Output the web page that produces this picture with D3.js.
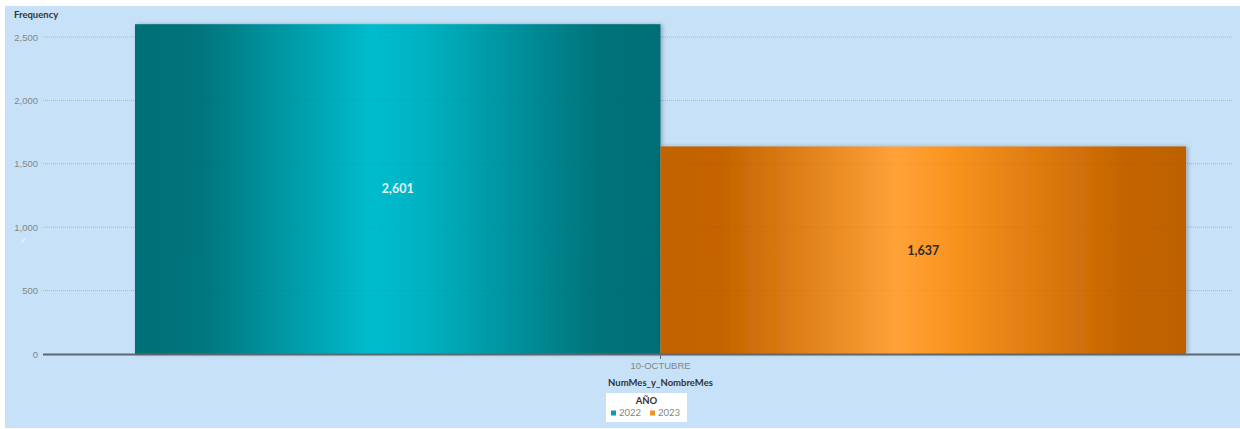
<!DOCTYPE html>
<html>
<head>
<meta charset="utf-8">
<script src="https://cdn.jsdelivr.net/npm/d3@7"></script>
<style>
  body { margin: 0; background: #fff; }
  svg { display: block; font-family: Lato, "Open Sans", sans-serif; }
</style>
</head>
<body>
<div id="chart"></div>
<script>
// data
const categories = ['10-OCTUBRE'];
const years = ['2022', '2023'];
const values2022 = [2601];
const values2023 = [1637];
const yTicks = [0, 500, 1000, 1500, 2000, 2500];

const width = 1240;
const height = 429;
const margin = { top: 24, right: 8, bottom: 75, left: 43 };
const baseY = 354;

const svg = d3.select('#chart')
  .append('svg')
  .attr('width', width)
  .attr('height', height)
  .attr('viewBox', `0 0 ${width} ${height}`);

// gradients for the shiny bars
const defs = svg.append('defs');
const grads = {
  '2022': [[0, '#006f77'], [0.12, '#00747b'], [0.45, '#00bccd'], [0.55, '#00b2c2'], [0.88, '#00737a'], [1, '#006e76']],
  '2023': [[0, '#c26300'], [0.12, '#c46400'], [0.45, '#ffa238'], [0.55, '#f99420'], [0.88, '#c46400'], [1, '#bd6100']]
};
Object.entries(grads).forEach(([k, stops]) => {
  const g = defs.append('linearGradient').attr('id', 'g' + k)
    .attr('x1', '0%').attr('x2', '100%').attr('y1', '0%').attr('y2', '0%');
  stops.forEach(s => g.append('stop').attr('offset', s[0]).attr('stop-color', s[1]));
});
const shadow = defs.append('filter').attr('id', 'shadow')
  .attr('x', '-5%').attr('y', '-5%').attr('width', '110%').attr('height', '110%');
shadow.append('feDropShadow').attr('dx', 2).attr('dy', 0).attr('stdDeviation', 2)
  .attr('flood-color', '#000').attr('flood-opacity', 0.25);

// background panel
svg.append('rect')
  .attr('x', 5).attr('y', 6)
  .attr('width', width - 5).attr('height', height - 7)
  .attr('fill', '#c7e2f8');

const x0 = d3.scaleBand()
  .domain(categories)
  .range([margin.left, 1278])
  .paddingInner(0)
  .paddingOuter(0.0875);

const x1 = d3.scaleBand()
  .domain(years)
  .range([0, x0.bandwidth()]);

const y = d3.scaleLinear()
  .domain([0, 2500])
  .range([baseY, 37]);

const color = d3.scaleOrdinal().domain(years).range(['#0e9aa7', '#f39325']);

// y axis with gridlines
svg.append('g')
  .attr('transform', `translate(${margin.left},0)`)
  .call(d3.axisLeft(y).tickValues(yTicks).tickFormat(d3.format(',')).tickSize(0).tickPadding(5))
  .call(g => g.select('.domain').remove())
  .call(g => g.selectAll('text').attr('fill', '#858585').style('font-size', '9.5px'));

svg.append('g').selectAll('line')
  .data(yTicks.filter(d => d > 0))
  .join('line')
  .attr('x1', margin.left).attr('x2', width - margin.right)
  .attr('y1', d => y(d)).attr('y2', d => y(d))
  .attr('stroke', '#a9c2d8')
  .attr('stroke-dasharray', '1,1');

// bars
const rows = categories.map((c, i) => ({ cat: c, vals: [values2022[i], values2023[i]] }));
const groups = svg.append('g').selectAll('g')
  .data(rows)
  .join('g')
  .attr('transform', d => `translate(${x0(d.cat)},0)`);

groups.selectAll('rect')
  .data(d => d.vals.map((v, i) => ({ key: years[i], v })))
  .join('rect')
  .attr('x', d => x1(d.key))
  .attr('y', d => y(d.v))
  .attr('width', x1.bandwidth())
  .attr('height', d => y(0) - y(d.v))
  .attr('fill', d => `url(#g${d.key})`)
  .attr('filter', 'url(#shadow)');

// gridlines faintly over bars
svg.append('g').selectAll('line')
  .data(yTicks.filter(d => d > 0))
  .join('line')
  .attr('x1', margin.left).attr('x2', width - margin.right)
  .attr('y1', d => y(d)).attr('y2', d => y(d))
  .attr('stroke', '#000')
  .attr('stroke-opacity', 0.05)
  .attr('stroke-dasharray', '1,1');

// value labels
groups.selectAll('text.val')
  .data(d => d.vals.map((v, i) => ({ key: years[i], v })))
  .join('text')
  .attr('class', 'val')
  .attr('x', d => x1(d.key) + x1.bandwidth() / 2)
  .attr('y', d => (y(d.v) + y(0)) / 2)
  .attr('dy', '0.35em')
  .attr('text-anchor', 'middle')
  .attr('font-size', 12.5)
  .attr('font-weight', 700)
  .attr('fill', (d, i) => i === 0 ? '#e4f4f6' : '#2b2b2b')
  .text(d => d3.format(',')(d.v));

// x axis
svg.append('line')
  .attr('x1', margin.left).attr('x2', width)
  .attr('y1', baseY + 0.5).attr('y2', baseY + 0.5)
  .attr('stroke', '#5f6770').attr('stroke-width', 2);

svg.append('g')
  .attr('transform', `translate(0,${baseY + 1})`)
  .call(d3.axisBottom(x0).tickSize(4).tickPadding(3))
  .call(g => g.select('.domain').remove())
  .call(g => g.selectAll('line').attr('stroke', '#5f6770'))
  .call(g => g.selectAll('text').attr('fill', '#858585').style('font-size', '9.5px'));

// titles
svg.append('text')
  .attr('x', 14).attr('y', 18)
  .attr('font-size', 9.5).attr('font-weight', 700).attr('fill', '#333')
  .text('Frequency');

svg.append('text')
  .attr('x', x0(categories[0]) + x0.bandwidth() / 2)
  .attr('y', 386)
  .attr('text-anchor', 'middle')
  .attr('font-size', 9.5).attr('font-weight', 700).attr('fill', '#333')
  .text('NumMes_y_NombreMes');

// small check mark
svg.append('text')
  .attr('x', 20).attr('y', 243)
  .attr('font-size', 8).attr('fill', '#fff')
  .text('✓');

// legend
const lg = svg.append('g').attr('transform', 'translate(606,393)');
lg.append('rect').attr('width', 81).attr('height', 29).attr('fill', '#fff');
lg.append('text')
  .attr('x', 40.5).attr('y', 11)
  .attr('text-anchor', 'middle')
  .attr('font-size', 9.5).attr('font-weight', 700).attr('fill', '#333')
  .text('AÑO');
const items = lg.selectAll('g.item')
  .data(years)
  .join('g')
  .attr('class', 'item')
  .attr('transform', (d, i) => `translate(${5 + i * 39},17)`);
items.append('rect')
  .attr('width', 5).attr('height', 5).attr('y', 0.5)
  .attr('fill', d => color(d));
items.append('text')
  .attr('x', 8).attr('y', 6)
  .attr('font-size', 9.5).attr('fill', '#858585')
  .text(d => d);
</script>
</body>
</html>
